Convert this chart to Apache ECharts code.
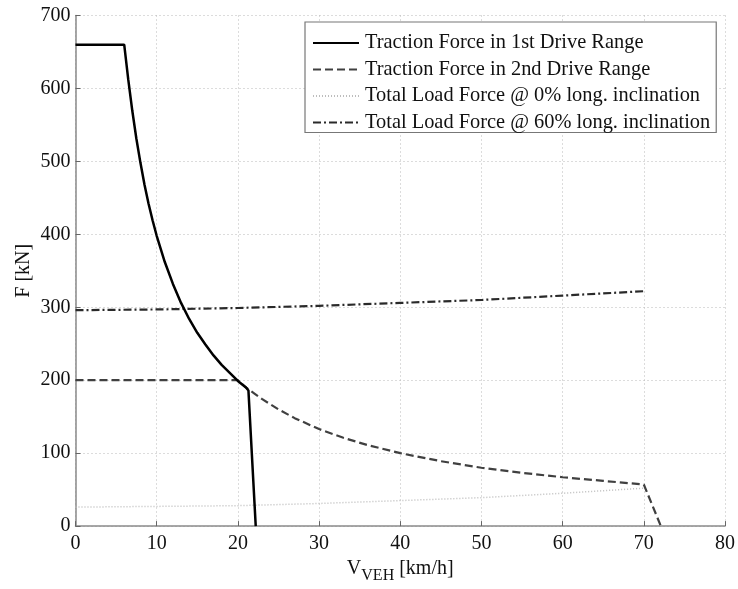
<!DOCTYPE html>
<html>
<head>
<meta charset="utf-8">
<script src="https://cdn.jsdelivr.net/npm/echarts@6/dist/echarts.min.js"></script>
<style>
  html, body { margin: 0; padding: 0; background: #fff; }
  #chart { width: 738px; height: 589px; }
</style>
</head>
<body>
<div id="chart"></div>
<script>
// Traction force in the 1st drive range [km/h, kN]
const v1 = [0, 6, 6.5, 7, 7.5, 8, 8.5, 9, 9.5, 10, 11, 12, 13, 14, 15, 16, 17, 18, 19, 20, 21, 21.3, 22.2];
const f1 = [660, 660, 612, 569, 531, 498, 468, 442, 419, 398, 362, 332, 306, 284, 265, 249, 234, 221, 210, 199, 190, 186, 0];

// Traction force in the 2nd drive range
const v2 = [0, 20, 21, 22, 23, 24, 25, 27, 30, 33, 36, 40, 45, 50, 55, 60, 65, 70, 72.1];
const f2 = [200, 200, 190, 182, 174, 167, 160, 148, 133, 121, 111, 100, 89, 80, 73, 67, 62, 57, 0];

// Total load force at 0 % longitudinal inclination
const v3 = [0, 10, 20, 30, 40, 50, 60, 70];
const f3 = [26, 27, 28, 31, 35, 39, 45, 52];

// Total load force at 60 % longitudinal inclination
const v4 = [0, 10, 20, 30, 40, 50, 60, 70];
const f4 = [296, 297, 299, 302, 306, 310, 316, 322];

const names = [
  'Traction Force in 1st Drive Range',
  'Traction Force in 2nd Drive Range',
  'Total Load Force @ 0% long. inclination',
  'Total Load Force @ 60% long. inclination'
];

const xTicks = [0, 10, 20, 30, 40, 50, 60, 70, 80];
const yTicks = [0, 100, 200, 300, 400, 500, 600, 700];

const pairs = (xs, ys) => xs.map((x, i) => [x, ys[i]]);

const FONT = '"Liberation Serif", "DejaVu Serif", serif';

const chart = echarts.init(document.getElementById('chart'), null, { renderer: 'canvas' });

const axisCommon = {
  type: 'value',
  axisLine: { show: true, lineStyle: { color: '#8a8a8a', width: 1.5 } },
  axisTick: { show: true, inside: true, length: 5, lineStyle: { color: '#666', width: 1 } },
  axisLabel: { color: '#111', fontFamily: FONT, fontSize: 20 },
  splitLine: { show: true, lineStyle: { color: '#b8b8b8', width: 1, type: [1, 3] } }
};

const colors = ['#000', '#404040', '#bdbdbd', '#2a2a2a'];

chart.setOption({
  animation: false,
  backgroundColor: '#fff',
  color: colors,
  grid: { left: 75.5, right: 13, top: 15.5, bottom: 61, containLabel: false },
  xAxis: Object.assign({}, axisCommon, {
    min: 0, max: 80, interval: 10,
    axisLabel: Object.assign({}, axisCommon.axisLabel, {
      margin: 8,
      formatter: v => xTicks.includes(v) ? String(v) : ''
    }),
    name: '{a|V}{b|VEH}{a| [km/h]}',
    nameLocation: 'middle',
    nameGap: 32,
    nameTextStyle: {
      rich: {
        a: { fontFamily: FONT, fontSize: 20, color: '#111', lineHeight: 22, verticalAlign: 'top' },
        b: { fontFamily: FONT, fontSize: 16, color: '#111', lineHeight: 22, verticalAlign: 'top', padding: [9, 0, 0, 0] }
      }
    }
  }),
  yAxis: Object.assign({}, axisCommon, {
    min: 0, max: 700, interval: 100,
    axisLabel: Object.assign({}, axisCommon.axisLabel, {
      margin: 5,
      formatter: v => yTicks.includes(v) ? String(v) : ''
    }),
    name: 'F [kN]',
    nameLocation: 'middle',
    nameGap: 42,
    nameMoveOverlap: false,
    nameRotate: 90,
    nameTextStyle: { fontFamily: FONT, fontSize: 20, color: '#111' }
  }),
  legend: {
    data: names,
    orient: 'vertical',
    left: 305,
    top: 22,
    padding: [11, 6, 0, 7],
    itemGap: 6.5,
    itemWidth: 46,
    itemHeight: 14,
    backgroundColor: '#fff',
    borderColor: '#777',
    borderWidth: 1.2,
    selectedMode: false,
    itemStyle: { opacity: 0 },
    textStyle: { fontFamily: FONT, fontSize: 20.4, lineHeight: 20, color: '#111', padding: [0, 0, 0, 1] }
  },
  series: [
    {
      name: names[0], type: 'line', data: pairs(v1, f1),
      showSymbol: false, symbol: 'none',
      itemStyle: { color: colors[0] },
      lineStyle: { color: colors[0], width: 2.5, type: 'solid' }, z: 5
    },
    {
      name: names[1], type: 'line', data: pairs(v2, f2),
      showSymbol: false, symbol: 'none',
      itemStyle: { color: colors[1] },
      lineStyle: { color: colors[1], width: 2.2, type: [8, 4] }, z: 4
    },
    {
      name: names[2], type: 'line', data: pairs(v3, f3),
      showSymbol: false, symbol: 'none',
      itemStyle: { color: colors[2] },
      lineStyle: { color: colors[2], width: 1.5, type: [1, 2] }, z: 3
    },
    {
      name: names[3], type: 'line', data: pairs(v4, f4),
      showSymbol: false, symbol: 'none',
      itemStyle: { color: colors[3] },
      lineStyle: { color: colors[3], width: 2.2, type: [8, 3, 2, 3] }, z: 4
    }
  ]
});
</script>
</body>
</html>
